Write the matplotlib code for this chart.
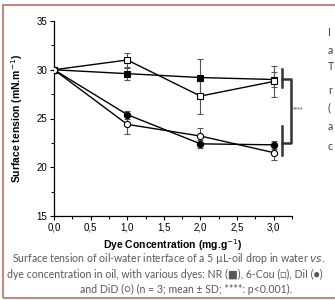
import matplotlib
matplotlib.use("Agg")
import matplotlib.pyplot as plt
from matplotlib.patches import Rectangle
from matplotlib.ticker import MultipleLocator, FuncFormatter

conc = [0.0, 1.0, 2.0, 3.0]
nr = [30.0, 29.6, 29.2, 29.0]
nr_sd = [0.2, 0.6, 1.9, 0.8]
cou = [30.0, 31.0, 27.3, 28.8]
cou_sd = [0.2, 0.7, 1.8, 1.6]
dii = [30.0, 25.4, 22.4, 22.3]
dii_sd = [0.2, 0.4, 0.4, 0.4]
did = [30.0, 24.4, 23.2, 21.5]
did_sd = [0.2, 1.0, 0.8, 0.8]

caption = ["Surface tension of oil-water interface of a 5 \u00b5L-oil drop in water $\\it{vs}$.",
           "dye concentration in oil, with various dyes: NR (\u25a0), 6-Cou (\u25a1), DiI (\u25cf)",
           "and DiD (\u25cb) (n = 3; mean \u00b1 SD; ****: p<0.001)."]
side_chars = ["I", "a", "T", "r", "(", "a", "c"]
side_y = [33, 51, 66, 90, 108, 127, 146]

plt.rcParams['font.family'] = ['Liberation Sans', 'DejaVu Sans']

fig = plt.figure(figsize=(3.35, 3.0), dpi=100)
ax = fig.add_axes([54/335, 1-216/300, 238/335, 195/300])

series = [(nr, nr_sd, 's', 'black'), (cou, cou_sd, 's', 'white'),
          (dii, dii_sd, 'o', 'black'), (did, did_sd, 'o', 'white')]
for y, e, m, fc in series:
    ax.errorbar(conc, y, yerr=e, fmt='none', ecolor='#555555', elinewidth=0.8,
                capsize=2.5, capthick=0.8, zorder=2)
    ax.plot(conc, y, color='black', lw=1.0, marker=m, ms=4.5, mfc=fc,
            mec='black', mew=0.8, zorder=3)

ax.set_xlim(0, 3.25)
ax.set_ylim(15, 35)
ax.xaxis.set_major_locator(MultipleLocator(0.5))
ax.xaxis.set_minor_locator(MultipleLocator(0.25))
ax.yaxis.set_major_locator(MultipleLocator(5))
ax.yaxis.set_minor_locator(MultipleLocator(2.5))
ax.xaxis.set_major_formatter(FuncFormatter(lambda v, p: f"{v:.1f}".replace('.', ',')))
ax.spines['top'].set_visible(False)
ax.spines['right'].set_visible(False)
for s in ['left', 'bottom']:
    ax.spines[s].set_linewidth(0.9)
ax.tick_params(which='major', length=3, width=0.8, labelsize=7, pad=2)
ax.tick_params(which='minor', length=2, width=0.7)
ax.set_xlabel("Dye Concentration (mg.g$^{-1}$)", fontsize=7.5, fontweight='bold', labelpad=3)
ax.set_ylabel("Surface tension (mN.m$^{-1}$)", fontsize=7.5, fontweight='bold', labelpad=8)

# significance bracket
bc = '#333333'
ax.plot([3.12, 3.12], [30.1, 28.2], color=bc, lw=1.8, clip_on=False)
ax.plot([3.12, 3.12], [24.2, 21.3], color=bc, lw=1.8, clip_on=False)
ax.plot([3.12, 3.23, 3.23, 3.12], [29.1, 29.1, 22.5, 22.5], color=bc, lw=1.8, clip_on=False)
ax.text(3.26, 25.9, "****", fontsize=5, color='#555555', va='center', ha='left', clip_on=False)

# caption and side text (cropped paragraph in the original)
cap_x = [12, 7, 80]
cap_y = [259, 274, 289]
for t, x, yy in zip(caption, cap_x, cap_y):
    fig.text(x/335, 1-yy/300, t, fontsize=7.6, color='#595959', ha='left', va='center',
             family=['Lato', 'DejaVu Sans'])
for c, yy in zip(side_chars, side_y):
    fig.text(328/335, 1-yy/300, c, fontsize=7.6, color='#404040', ha='left', va='center',
             family=['Lato', 'DejaVu Sans'])

fig.patches.append(Rectangle((3/335, 1-298/300), 1.2, 293/300, transform=fig.transFigure,
                             fill=False, edgecolor='#c08a84', lw=1.5))

fig.savefig("out.png", dpi=100)
